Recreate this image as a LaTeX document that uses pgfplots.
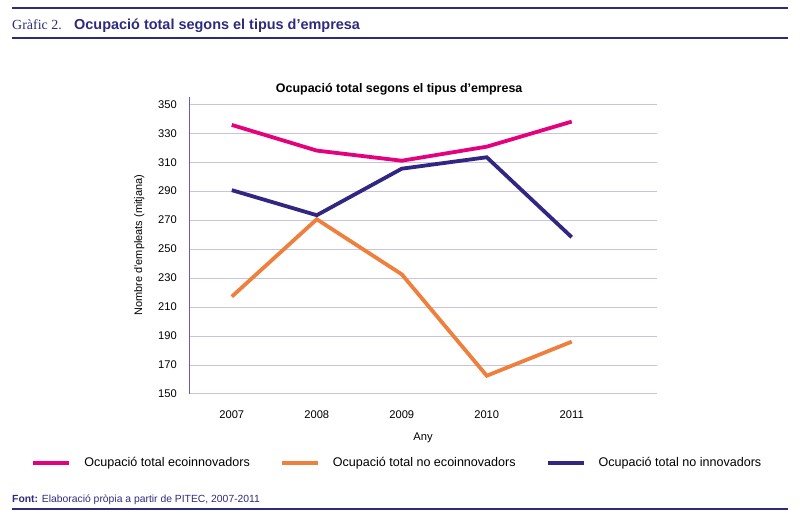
\documentclass[border=0pt]{standalone}
\usepackage{pgfplots}
\pgfplotsset{compat=1.18}
\usepackage{fontspec}
\setmainfont{Liberation Sans}
\newfontfamily\seriffont{Liberation Serif}
\definecolor{cpink}{HTML}{E5007D}
\definecolor{corange}{HTML}{EF7F3D}
\definecolor{cnavy}{HTML}{312681}
\definecolor{cgrid}{HTML}{C8C3DE}
\definecolor{caxis}{HTML}{6A5DAE}
\definecolor{chead}{HTML}{2E2A7E}
\begin{document}
\begin{tikzpicture}[x=1bp,y=1bp]
\path[use as bounding box] (0,0) rectangle (800,520);
% header
\draw[chead, line width=2bp] (12,511.5) -- (788,511.5);
\draw[chead, line width=2bp] (12,481.5) -- (788,481.5);
\node[anchor=base west, inner sep=0pt, font=\seriffont\fontsize{14}{14}\selectfont, text=chead] at (12,490) {Gràfic 2.};
\node[anchor=base west, inner sep=0pt, font=\bfseries\fontsize{14.5}{14}\selectfont, text=chead] at (74,490) {Ocupació total segons el tipus d’empresa};
% footer
\node[anchor=base west, inner sep=0pt, font=\fontsize{10.4}{10}\selectfont, text=chead] at (12,17.5) {\textbf{Font:} Elaboració pròpia a partir de PITEC, 2007-2011};
\draw[chead, line width=2bp] (12,11) -- (788,11);
\begin{axis}[
  at={(189.3bp,126bp)}, anchor=south west,
  scale only axis, width=467.4bp, height=297.3bp,
  xmin=2006.5, xmax=2012, ymin=150, ymax=355.2,
  axis lines=left,
  x axis line style={draw=none},
  y axis line style={draw=caxis, line width=1.5bp, -},
  xtick={2007,2008,2009,2010,2011},
  xticklabels={2007,2008,2009,2010,2011},
  ytick={150,170,...,350},
  major tick length=0pt,
  ymajorgrids,
  grid style={cgrid, line width=1bp},
  /pgf/number format/assume math mode=true,
  tick label style={font=\fontsize{11.2}{11}\selectfont},
  yticklabel style={xshift=-9bp},
  xticklabel style={yshift=-13bp},
  title={Ocupació total segons el tipus d’empresa},
  title style={font=\bfseries\fontsize{12.5}{12}\selectfont, at={(0.449,1)}, anchor=base, yshift=-2bp},
  xlabel={Any},
  xlabel style={font=\fontsize{11.2}{11}\selectfont, yshift=-8bp},
  ylabel={Nombre d’empleats (mitjana)},
  ylabel style={font=\fontsize{11}{11}\selectfont, yshift=7bp},
  legend columns=3,
  legend style={at={(0.443,-0.232)}, anchor=center, draw=none, fill=none,
    font=\fontsize{12.6}{12}\selectfont, nodes={inner sep=0pt},
    /tikz/every odd column/.append style={column sep=13bp},
    /tikz/every even column/.append style={column sep=30bp}},
  legend image code/.code={\draw[#1, line width=4bp] (0bp,0bp) -- (36bp,0bp);},
  every axis plot/.append style={line width=3.8bp, mark=none},
]
\addplot[cpink] coordinates {(2007,335.7) (2008,318.0) (2009,311.0) (2010,320.7) (2011,338.0)};
\addlegendentry{Ocupació total ecoinnovadors}
\addplot[corange] coordinates {(2007,217.2) (2008,270.6) (2009,232.6) (2010,162.6) (2011,186.1)};
\addlegendentry{Ocupació total no ecoinnovadors}
\addplot[cnavy] coordinates {(2007,290.7) (2008,273.4) (2009,305.5) (2010,313.4) (2011,258.2)};
\addlegendentry{Ocupació total no innovadors}
\end{axis}
\end{tikzpicture}
\end{document}
